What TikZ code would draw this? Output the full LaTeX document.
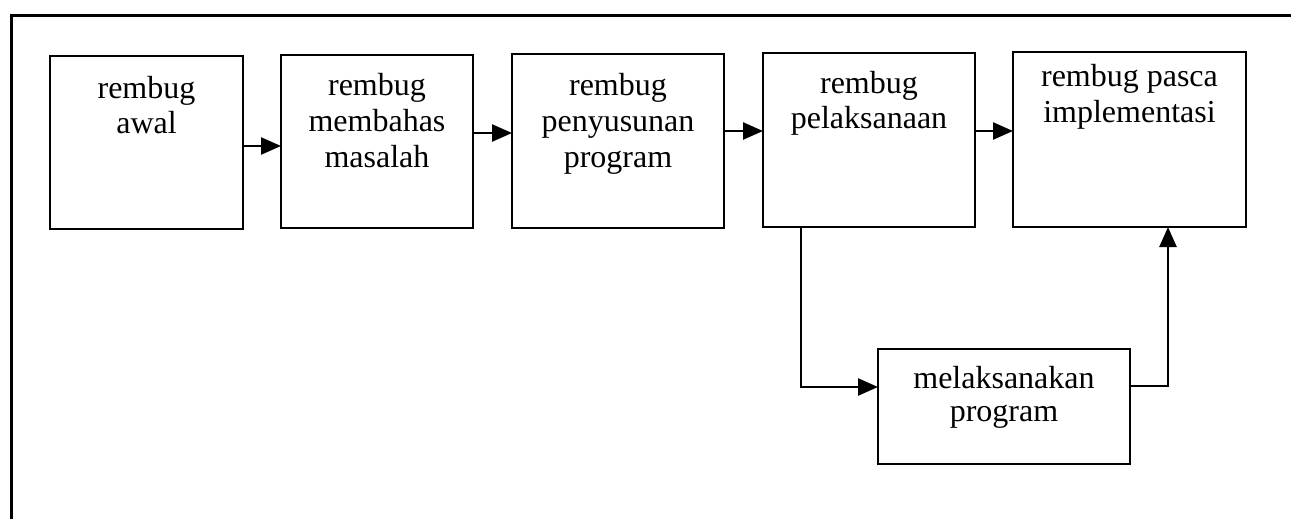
\documentclass[tikz,border=0pt]{standalone}
\usepackage{fontspec}
\setmainfont{Liberation Serif}
\usetikzlibrary{arrows.meta}
\tikzset{
  box/.style={draw, line width=2pt, inner sep=0pt, outer sep=0pt},
  arr/.style={line width=2.5pt, -{Triangle[length=20pt,width=17pt]}},
  conn/.style={line width=2.5pt},
}
\newcommand{\boxtext}[5]{\parbox[c][#2pt][t]{#1pt}{\centering\fontsize{32}{#4}\selectfont\rule{0pt}{#3pt}#5}}
\begin{document}
\begin{tikzpicture}[x=1pt,y=-1pt]
\useasboundingbox (0,0) rectangle (1291,519);
\draw[line width=3pt] (1291,16) -- (11,16) -- (11,519);
\node[box] (b1) at (146.5,142.5) {\boxtext{193}{173}{42}{35}{rembug\\awal}};
\node[box] (b2) at (377,141.5) {\boxtext{192}{173}{40}{36}{rembug\\membahas\\masalah}};
\node[box] (b3) at (618,141) {\boxtext{212}{174}{41}{36}{rembug\\penyusunan\\program}};
\node[box] (b4) at (869,140) {\boxtext{212}{174}{41}{35}{rembug\\pelaksanaan}};
\node[box] (b5) at (1129.5,139.5) {\boxtext{233}{175}{35}{35}{rembug pasca\\implementasi}};
\node[box] (b6) at (1004,406.5) {\boxtext{252}{115}{39}{33}{melaksanakan\\program}};
\draw[arr] (b1.east |- 0,146) -- (b2.west |- 0,146);
\draw[arr] (b2.east |- 0,133) -- (b3.west |- 0,133);
\draw[arr] (b3.east |- 0,131) -- (b4.west |- 0,131);
\draw[arr] (b4.east |- 0,131) -- (b5.west |- 0,131);
\coordinate (c1) at (801,387);
\coordinate (c2) at (1168,386);
\draw[arr] (b4.south -| c1) -- (c1) -- (b6.west |- c1);
\draw[arr] (b6.east |- c2) -- (c2) -- (b5.south -| c2);
\end{tikzpicture}
\end{document}
